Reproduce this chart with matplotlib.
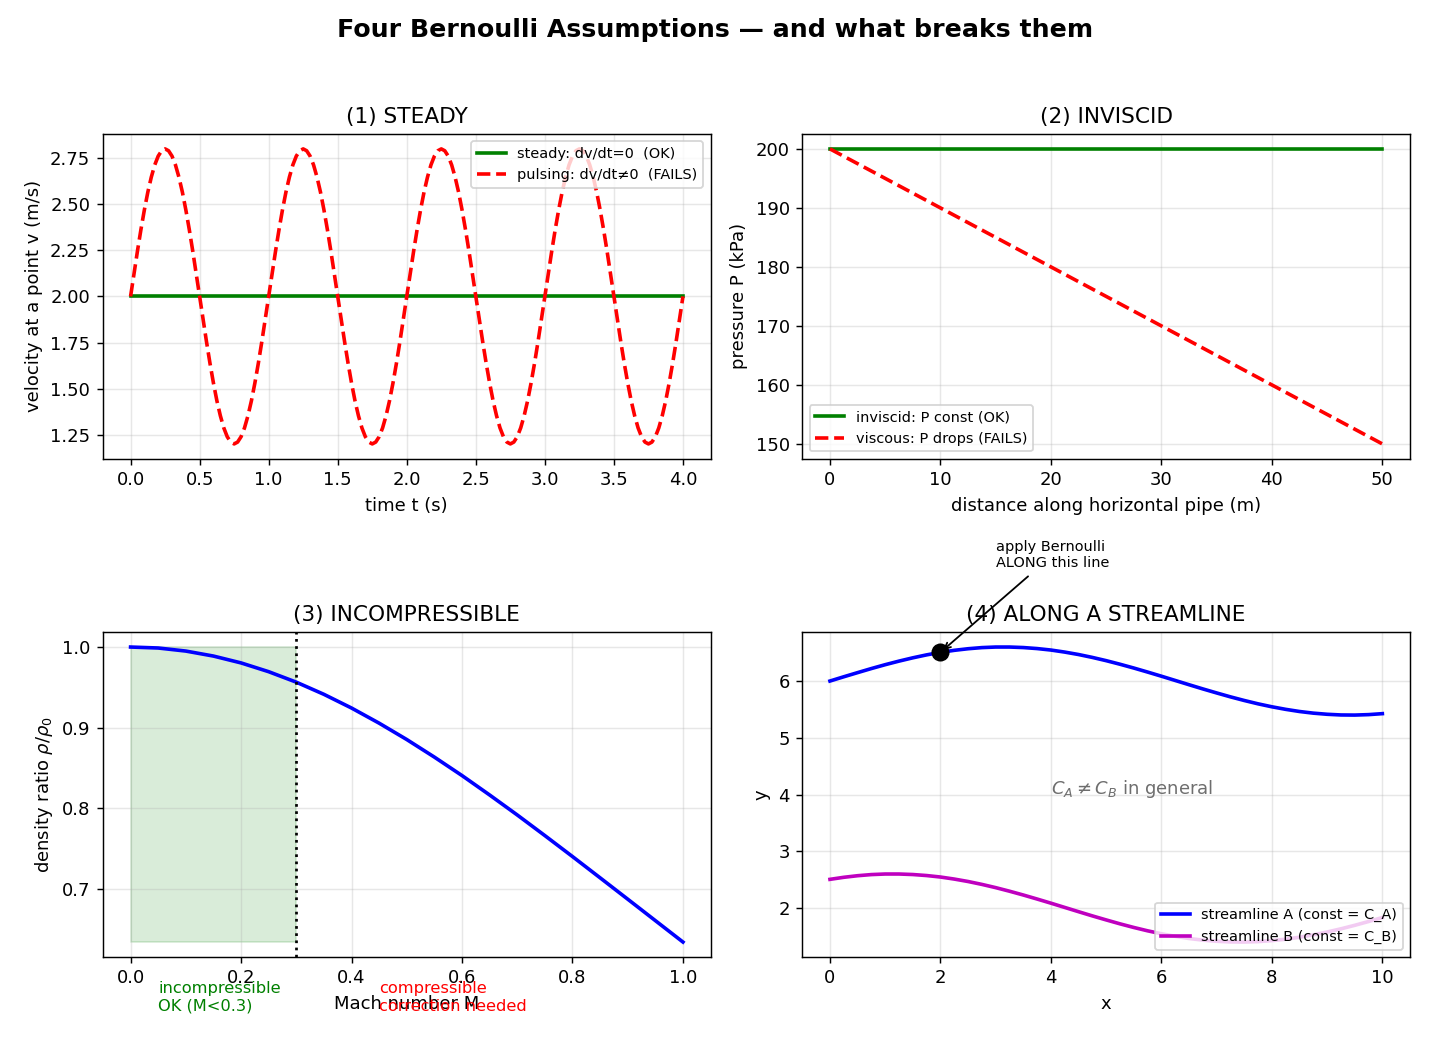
import numpy as np
import matplotlib
matplotlib.use("Agg")
import matplotlib.pyplot as plt

t_end = 4.0
v_steady = 2.0
v_pulse_cycle = [2.000, 2.125, 2.247, 2.363, 2.470, 2.566, 2.647, 2.713, 2.761, 2.790,
                 2.800, 2.790, 2.761, 2.713, 2.647, 2.566, 2.470, 2.363, 2.247, 2.125,
                 2.000, 1.875, 1.753, 1.637, 1.530, 1.434, 1.353, 1.287, 1.239, 1.210,
                 1.200, 1.210, 1.239, 1.287, 1.353, 1.434, 1.530, 1.637, 1.753, 1.875]
v_pulse = v_pulse_cycle * 4 + [2.000]
t = np.linspace(0, t_end, len(v_pulse))

# --- (2) pressure along pipe
dist = [0, 50]
p_inviscid = [200, 200]
p_viscous = [200, 150]

# --- (3) density ratio vs Mach number
mach = [0.00, 0.05, 0.10, 0.15, 0.20, 0.25, 0.30, 0.35, 0.40, 0.45, 0.50,
        0.55, 0.60, 0.65, 0.70, 0.75, 0.80, 0.85, 0.90, 0.95, 1.00]
rho_ratio = [1.0000, 0.9988, 0.9950, 0.9888, 0.9803, 0.9694, 0.9564, 0.9413, 0.9243,
             0.9055, 0.8852, 0.8634, 0.8405, 0.8164, 0.7916, 0.7660, 0.7400, 0.7136,
             0.6871, 0.6605, 0.6339]
m_limit = 0.3

# --- (4) two streamlines, sampled every 0.25 in x
xs = np.linspace(0, 10, 41)
stream_a = [6.000, 6.075, 6.148, 6.220, 6.288, 6.351, 6.409, 6.461, 6.505, 6.541,
            6.569, 6.589, 6.599, 6.599, 6.590, 6.572, 6.546, 6.510, 6.467, 6.416,
            6.359, 6.296, 6.229, 6.158, 6.085, 6.010, 5.935, 5.861, 5.790, 5.721,
            5.657, 5.598, 5.546, 5.501, 5.463, 5.434, 5.414, 5.402, 5.400, 5.408, 5.425]
stream_b = [2.505, 2.541, 2.569, 2.589, 2.599, 2.599, 2.590, 2.572, 2.546, 2.510,
            2.467, 2.416, 2.359, 2.296, 2.229, 2.158, 2.085, 2.010, 1.935, 1.861,
            1.790, 1.721, 1.657, 1.598, 1.546, 1.501, 1.463, 1.434, 1.414, 1.402,
            1.400, 1.408, 1.425, 1.450, 1.485, 1.527, 1.577, 1.633, 1.695, 1.762, 1.832]
dot_x, dot_y = 2.0, 6.505

fig, axes = plt.subplots(2, 2, figsize=(11, 8), dpi=130)
fig.subplots_adjust(left=0.072, right=0.986, top=0.871, bottom=0.080,
                    wspace=0.151, hspace=0.535)
fig.suptitle("Four Bernoulli Assumptions — and what breaks them",
             fontsize=14, fontweight="bold", y=0.983)

# (1)
ax = axes[0, 0]
ax.plot([0, t_end], [v_steady, v_steady], "g-", lw=2, label="steady: dv/dt=0  (OK)")
ax.plot(t, v_pulse, "r--", lw=2, label="pulsing: dv/dt≠0  (FAILS)")
ax.set_title("(1) STEADY")
ax.set_xlabel("time t (s)")
ax.set_ylabel("velocity at a point v (m/s)")
ax.legend(fontsize=8, loc="upper right")
ax.grid(alpha=0.3)

# (2)
ax = axes[0, 1]
ax.plot(dist, p_inviscid, "g-", lw=2, label="inviscid: P const (OK)")
ax.plot(dist, p_viscous, "r--", lw=2, label="viscous: P drops (FAILS)")
ax.set_title("(2) INVISCID")
ax.set_xlabel("distance along horizontal pipe (m)")
ax.set_ylabel("pressure P (kPa)")
ax.legend(fontsize=8, loc="lower left")
ax.grid(alpha=0.3)

# (3)
ax = axes[1, 0]
ax.plot(mach, rho_ratio, "b-", lw=2)
ax.fill_between([0, m_limit], min(rho_ratio), 1.0, color="green", alpha=0.15)
ax.axvline(m_limit, color="k", ls=":", lw=1.5)
ax.text(0.05, 0.585, "incompressible\nOK (M<0.3)", color="green", fontsize=9, va="top")
ax.text(0.45, 0.585, "compressible\ncorrection needed", color="red", fontsize=9, va="top")
ax.set_title("(3) INCOMPRESSIBLE")
ax.set_xlabel("Mach number M")
ax.set_ylabel(r"density ratio $\rho/\rho_0$")
ax.grid(alpha=0.3)

# (4)
ax = axes[1, 1]
ax.plot(xs, stream_a, "b-", lw=2, label="streamline A (const = C_A)")
ax.plot(xs, stream_b, "m-", lw=2, label="streamline B (const = C_B)")
ax.plot(dot_x, dot_y, "ko", ms=9)
ax.annotate("apply Bernoulli\nALONG this line", xy=(dot_x, dot_y), xytext=(3.0, 7.95),
            fontsize=8, va="bottom", annotation_clip=False,
            arrowprops=dict(arrowstyle="->", color="black"))
ax.text(4.0, 4.1, r"$C_A \neq C_B$ in general", fontsize=10, color="#6e6e6e", va="center")
ax.set_title("(4) ALONG A STREAMLINE")
ax.set_xlabel("x")
ax.set_ylabel("y")
ax.legend(fontsize=8, loc="lower right")
ax.grid(alpha=0.3)

fig.savefig("out.png", dpi=130)
